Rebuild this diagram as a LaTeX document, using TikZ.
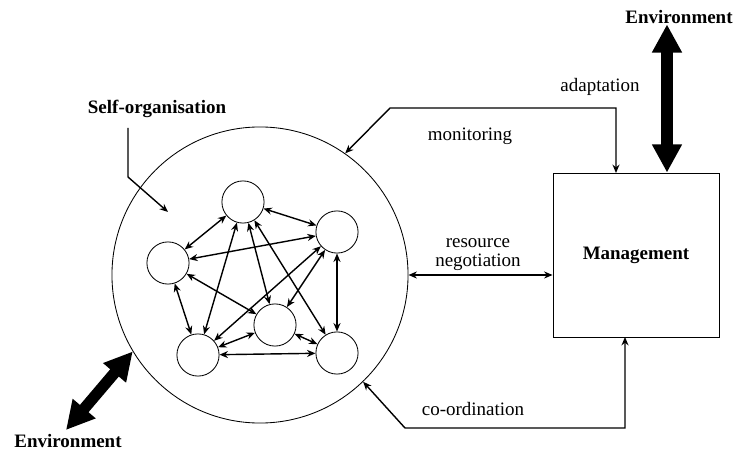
\documentclass[tikz,border=0pt]{standalone}
\usepackage{fontspec}
\setmainfont{Liberation Serif}
\usetikzlibrary{arrows.meta}

\tikzset{every picture/.style={line width=1pt}}
\tikzset{agent/.style={circle, draw, minimum size=30pt, inner sep=0pt, line width=0.6pt}}
\tikzset{link/.style={{Stealth[length=6pt,width=5pt]}-{Stealth[length=6pt,width=5pt]}}}
\tikzset{env link/.style={line width=8pt, {Triangle[length=20pt,width=20pt]}-{Triangle[length=20pt,width=20pt]}}}
\tikzset{lbl/.style={font=\fontsize{13.5}{15}\selectfont, inner sep=0pt}}
\tikzset{blbl/.style={lbl, font=\fontsize{13.5}{15}\selectfont\bfseries}}

\begin{document}
\begin{tikzpicture}[x=0.025cm, y=-0.025cm]
        \useasboundingbox (0,0) rectangle (733,453);
        % self-organising group
        \node[circle, draw, minimum size=7.4cm, line width=0.6pt] (so) at (260,275) {};
        \node[agent] (t) at (243,202) {};
        \node[agent] (r) at (337,232) {};
        \node[agent] (l) at (168,263) {};
        \node[agent] (m) at (275,325) {};
        \node[agent] (bl) at (198,355) {};
        \node[agent] (br) at (337,353) {};
        \foreach \a/\b in {t/l, t/r, t/bl, t/m, t/br, r/l, r/br, r/bl, r/m, l/bl, l/m, bl/m, m/br, bl/br}
            \draw[link] (\a) -- (\b);
        % management
        \node[draw, minimum width=4.15cm, minimum height=4.1cm, line width=0.6pt] (mgmt) at (636,255) {};
        \node[blbl] at (mgmt) {Management};
        % labels
        \node[blbl] (selforg) at (157,109) {Self-organisation};
        \node[blbl] (envtop) at (679,17) {Environment};
        \node[blbl] (envbot) at (68,441) {Environment};
        \node[lbl] at (600,87) {adaptation};
        \node[lbl] at (470,136) {monitoring};
        \node[lbl] at (478,243) {resource};
        \node[lbl] at (478,262) {negotiation};
        \node[lbl] at (473,409) {co-ordination};
        % connectors
        \coordinate (adapt) at (616,173);
        \coordinate (coord) at (625,337);
        \coordinate (envb) at (66,430);
        \coordinate (sostart) at (128,128);
        \draw[link] (so.55) -- (390,108) -| (adapt);
        \draw[link] (so.-46) -- (405,428) -| (coord);
        \draw[link] (so.east) -- (so.east -| mgmt.west);
        \draw[env link] (envtop.south -| 667,0) -- (mgmt.north -| 667,0);
        \draw[env link] (envb) -- (so.211);
        \draw[-{Stealth[length=6pt,width=5pt]}] (sostart) -- (128,177) -- (168,212);
    \end{tikzpicture}
\end{document}
